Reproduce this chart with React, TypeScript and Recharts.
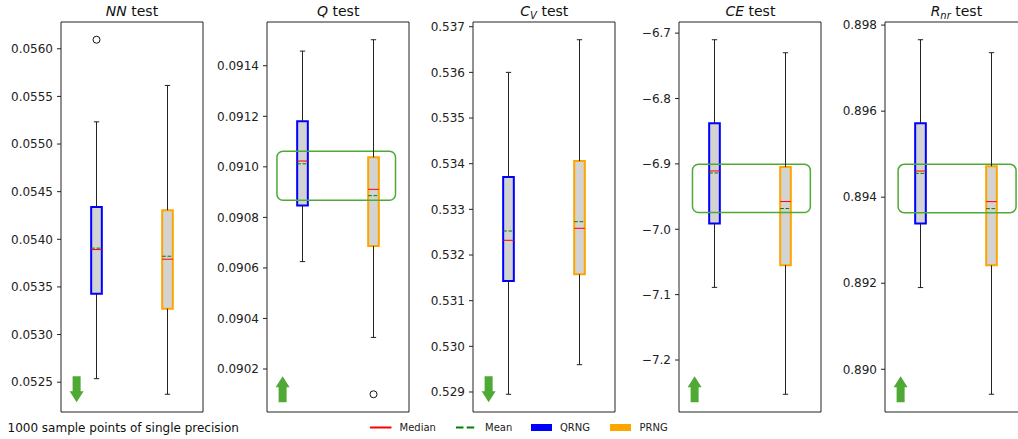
import React from "react";
import {
  ComposedChart,
  XAxis,
  YAxis,
  ReferenceArea,
  ReferenceLine,
  ReferenceDot,
  Scatter,
} from "recharts";

// one entry per test panel
const testNames = ["NN", "Q", "C", "CE", "R"];
const testSubs = ["", "", "V", "", "nr"];

const qrngMin = [0.052537, 0.090625, 0.52895, -7.0889, 0.891899];
const qrngQ1 = [0.053427, 0.090847, 0.53143, -6.9912, 0.893386];
const qrngMedian = [0.053892, 0.091023, 0.532322, -6.9108, 0.894608];
const qrngMean = [0.053907, 0.091012, 0.532526, -6.9139, 0.894554];
const qrngQ3 = [0.05434, 0.09118, 0.533708, -6.838, 0.895716];
const qrngMax = [0.055233, 0.091458, 0.536, -6.7101, 0.89766];
const qrngOutliers = [[0.056095], [], [], [], []];

const prngMin = [0.052373, 0.090325, 0.529598, -7.2524, 0.889419];
const prngQ1 = [0.053272, 0.090687, 0.531577, -7.0549, 0.892417];
const prngMedian = [0.053791, 0.090911, 0.532585, -6.9576, 0.893897];
const prngMean = [0.053822, 0.090886, 0.53273, -6.9683, 0.893734];
const prngQ3 = [0.054306, 0.091038, 0.534059, -6.9047, 0.894717];
const prngMax = [0.055615, 0.091503, 0.536715, -6.73, 0.897359];
const prngOutliers = [[], [0.0901], [], [], []];

// green highlight bands (null = none)
const bandLow = [null, 0.090868, null, -6.9744, 0.893641];
const bandHigh = [null, 0.091062, null, -6.9006, 0.894763];
const bandX1 = [0, 0.64, 0, 0.69, 0.685];
const bandX2 = [0, 2.31, 0, 2.35, 2.346];

const arrowDir = ["down", "up", "down", "up", "up"];

const yTicks = [
  [0.0525, 0.053, 0.0535, 0.054, 0.0545, 0.055, 0.0555, 0.056],
  [0.0902, 0.0904, 0.0906, 0.0908, 0.091, 0.0912, 0.0914],
  [0.529, 0.53, 0.531, 0.532, 0.533, 0.534, 0.535, 0.536, 0.537],
  [-7.2, -7.1, -7.0, -6.9, -6.8, -6.7],
  [0.89, 0.892, 0.894, 0.896, 0.898],
];
const tickDecimals = [4, 4, 3, 1, 3];

const caption = "1000 sample points of single precision";

const FONT = "DejaVu Sans, sans-serif";
const GREEN = "#4fa935";
const panelLefts = [61, 267.2, 473.3, 679.4, 885.4];
const PLOT_W = 142;
const PLOT_TOP = 22;
const PLOT_H = 390;
const AXIS_W = 56;
const BOX_W = 0.15;

const Arrow = ({ cx, cy, dir }: any) => {
  const h = 26, sw = 4, hw = 7, hl = 11;
  const s = dir === "up" ? -1 : 1;
  const tip = cy + (s * h) / 2;
  const base = cy - (s * h) / 2;
  const neck = tip - s * hl;
  const pts = [
    [cx - sw, base], [cx - sw, neck], [cx - hw, neck], [cx, tip],
    [cx + hw, neck], [cx + sw, neck], [cx + sw, base],
  ].map((p) => p.join(",")).join(" ");
  return <polygon points={pts} fill={GREEN} />;
};

function Panel({ i }: { i: number }) {
  const all = [qrngMin[i], prngMin[i], qrngMax[i], prngMax[i], ...qrngOutliers[i], ...prngOutliers[i]];
  const lo = Math.min(...all);
  const hi = Math.max(...all);
  const pad = (hi - lo) * 0.05;
  const domain = [lo - pad, hi + pad];

  const boxes = [
    { pos: 1, color: "#0000ff", min: qrngMin[i], q1: qrngQ1[i], med: qrngMedian[i], mean: qrngMean[i], q3: qrngQ3[i], max: qrngMax[i], out: qrngOutliers[i] },
    { pos: 2, color: "#ffa500", min: prngMin[i], q1: prngQ1[i], med: prngMedian[i], mean: prngMean[i], q3: prngQ3[i], max: prngMax[i], out: prngOutliers[i] },
  ];
  const outliers = boxes.flatMap((b) => b.out.map((y) => ({ x: b.pos, y })));
  const fmt = (v: number) => v.toFixed(tickDecimals[i]).replace("-", "\u2212");
  const w = AXIS_W + PLOT_W + 8;
  const h = PLOT_TOP + PLOT_H + 8;
  const [y0, y1] = domain;
  // axes frame
  const frame = [
    [{ x: 0.5, y: y0 }, { x: 2.5, y: y0 }],
    [{ x: 0.5, y: y1 }, { x: 2.5, y: y1 }],
    [{ x: 0.5, y: y0 }, { x: 0.5, y: y1 }],
    [{ x: 2.5, y: y0 }, { x: 2.5, y: y1 }],
  ];

  return (
    <div style={{ position: "absolute", left: panelLefts[i] - AXIS_W, top: 0, width: w, height: h }}>
      <ComposedChart width={w} height={h} margin={{ top: PLOT_TOP, right: 8, bottom: 8, left: 0 }}>
        <XAxis type="number" dataKey="x" domain={[0.5, 2.5]} allowDataOverflow hide />
        <YAxis
          type="number"
          dataKey="y"
          domain={domain}
          allowDataOverflow
          ticks={yTicks[i]}
          interval={0}
          tickFormatter={fmt}
          width={AXIS_W}
          axisLine={false}
          tickSize={4}
          tickMargin={4}
          tickLine={{ stroke: "#222" }}
          tick={{ fill: "#222", fontSize: 12, fontFamily: FONT }}
        />
        {frame.map((seg, k) => (
          <ReferenceLine key={k} segment={seg} stroke="#222" strokeWidth={1} ifOverflow="visible" />
        ))}
        {boxes.map((b) => (
          <React.Fragment key={b.pos}>
            <ReferenceLine segment={[{ x: b.pos, y: b.q3 }, { x: b.pos, y: b.max }]} stroke="#222" strokeWidth={1} />
            <ReferenceLine segment={[{ x: b.pos, y: b.min }, { x: b.pos, y: b.q1 }]} stroke="#222" strokeWidth={1} />
            <ReferenceLine segment={[{ x: b.pos - BOX_W / 4, y: b.max }, { x: b.pos + BOX_W / 4, y: b.max }]} stroke="#222" strokeWidth={1} />
            <ReferenceLine segment={[{ x: b.pos - BOX_W / 4, y: b.min }, { x: b.pos + BOX_W / 4, y: b.min }]} stroke="#222" strokeWidth={1} />
            <ReferenceArea x1={b.pos - BOX_W / 2} x2={b.pos + BOX_W / 2} y1={b.q1} y2={b.q3} fill="#d3d3d3" fillOpacity={1} stroke={b.color} strokeWidth={2} />
            <ReferenceLine segment={[{ x: b.pos - BOX_W / 2, y: b.med }, { x: b.pos + BOX_W / 2, y: b.med }]} stroke="#ff0000" strokeWidth={1} />
            <ReferenceLine segment={[{ x: b.pos - BOX_W / 2, y: b.mean }, { x: b.pos + BOX_W / 2, y: b.mean }]} stroke="#008000" strokeWidth={1} strokeDasharray="3.7 1.6" />
          </React.Fragment>
        ))}
        <Scatter
          data={outliers}
          isAnimationActive={false}
          shape={(p: any) => <circle cx={p.cx} cy={p.cy} r={3.5} fill="none" stroke="#111" strokeWidth={1} />}
        />
        {bandLow[i] !== null && (
          <ReferenceArea
            x1={bandX1[i]}
            x2={bandX2[i]}
            y1={bandLow[i] as number}
            y2={bandHigh[i] as number}
            shape={(p: any) => (
              <rect x={p.x} y={p.y} width={p.width} height={p.height} rx={6} ry={6} fill="none" stroke={GREEN} strokeWidth={1.5} />
            )}
          />
        )}
        <ReferenceDot
          x={0.72}
          y={domain[0] + 0.0585 * (domain[1] - domain[0])}
          shape={(p: any) => <Arrow cx={p.cx} cy={p.cy} dir={arrowDir[i]} />}
        />
      </ComposedChart>
    </div>
  );
}

export default function App() {
  return (
    <div style={{ position: "absolute", left: 0, top: 0, width: 1018, height: 439, overflow: "hidden", background: "#fff" }}>
      {testNames.map((_, i) => (
        <Panel key={i} i={i} />
      ))}
      <svg width={1018} height={439} style={{ position: "absolute", left: 0, top: 0, pointerEvents: "none" }} fontFamily={FONT}>
        {testNames.map((n, i) => (
          <text key={n} x={panelLefts[i] + PLOT_W / 2} y={16} textAnchor="middle" fontSize={14} fill="#111">
            <tspan fontStyle="italic">{n}</tspan>
            {testSubs[i] && (
              <tspan fontStyle="italic" fontSize={10} dy={3}>{testSubs[i]}</tspan>
            )}
            <tspan dy={testSubs[i] ? -3 : 0}>{" test"}</tspan>
          </text>
        ))}
        <text x={7.5} y={432} fontSize={12} fill="#111">{caption}</text>
        <g fontSize={10} fill="#222">
          <line x1={370} x2={391.5} y1={427.5} y2={427.5} stroke="#ff0000" strokeWidth={2} />
          <text x={399.5} y={431}>Median</text>
          <line x1={456} x2={476} y1={427.5} y2={427.5} stroke="#008000" strokeWidth={2} strokeDasharray="7.5 3.2" />
          <text x={485} y={431}>Mean</text>
          <rect x={531} y={424} width={21} height={7} fill="#0000ff" />
          <text x={560} y={431}>QRNG</text>
          <rect x={610} y={424} width={21} height={7} fill="#ffa500" />
          <text x={639.5} y={431}>PRNG</text>
        </g>
      </svg>
    </div>
  );
}
